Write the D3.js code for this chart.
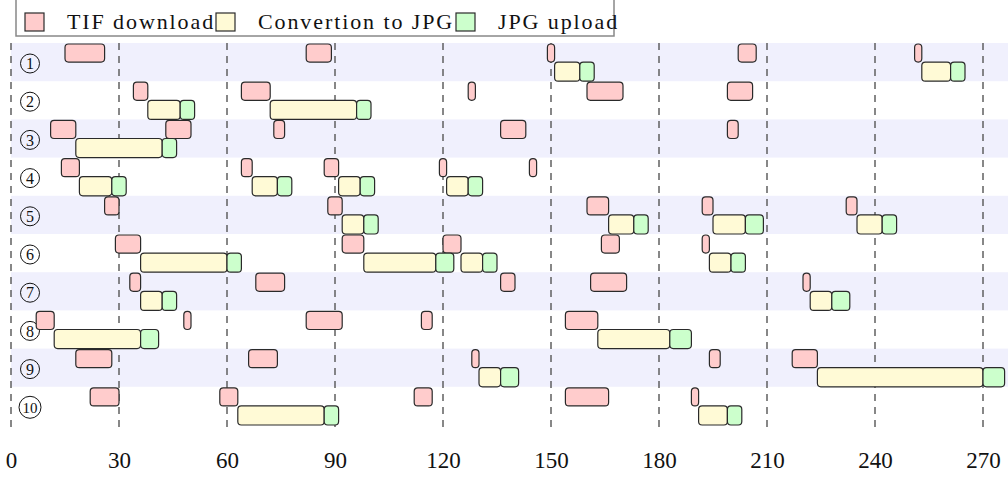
<!DOCTYPE html>
<html>
<head>
<meta charset="utf-8">
<script src="https://cdn.jsdelivr.net/npm/d3@7"></script>
<style>
  body { margin: 0; background: #fff; }
  svg { display: block; }
  svg text { font-family: "Liberation Serif", "DejaVu Serif", serif; }
</style>
</head>
<body>
<div id="chart"></div>
<script>
// machines (rows), one per download slot
const machines = [1, 2, 3, 4, 5, 6, 7, 8, 9, 10];

// [machine, start, end] in seconds
const tifDownload = [
  [1, 15, 26], [1, 82, 89], [1, 149, 151], [1, 202, 207], [1, 251, 253],
  [2, 34, 38], [2, 64, 72], [2, 127, 129], [2, 160, 170], [2, 199, 206],
  [3, 11, 18], [3, 43, 50], [3, 73, 76], [3, 136, 143], [3, 199, 202],
  [4, 14, 19], [4, 64, 67], [4, 87, 91], [4, 119, 121], [4, 144, 146],
  [5, 26, 30], [5, 88, 92], [5, 160, 166], [5, 192, 195], [5, 232, 235],
  [6, 29, 36], [6, 92, 98], [6, 120, 125], [6, 164, 169], [6, 192, 194],
  [7, 33, 36], [7, 68, 76], [7, 136, 140], [7, 161, 171], [7, 220, 222],
  [8, 7, 12], [8, 48, 50], [8, 82, 92], [8, 114, 117], [8, 154, 163],
  [9, 18, 28], [9, 66, 74], [9, 128, 130], [9, 194, 197], [9, 217, 224],
  [10, 22, 30], [10, 58, 63], [10, 112, 117], [10, 154, 166], [10, 189, 191]
];
const conversion = [
  [1, 151, 158], [1, 253, 261],
  [2, 38, 47], [2, 72, 96],
  [3, 18, 42],
  [4, 19, 28], [4, 67, 74], [4, 91, 97], [4, 121, 127],
  [5, 92, 98], [5, 166, 173], [5, 195, 204], [5, 235, 242],
  [6, 36, 60], [6, 98, 118], [6, 125, 131], [6, 194, 200],
  [7, 36, 42], [7, 222, 228],
  [8, 12, 36], [8, 163, 183],
  [9, 130, 136], [9, 224, 270],
  [10, 63, 87], [10, 191, 199]
];
const jpgUpload = [
  [1, 158, 162], [1, 261, 265],
  [2, 47, 51], [2, 96, 100],
  [3, 42, 46],
  [4, 28, 32], [4, 74, 78], [4, 97, 101], [4, 127, 131],
  [5, 98, 102], [5, 173, 177], [5, 204, 209], [5, 242, 246],
  [6, 60, 64], [6, 118, 123], [6, 131, 135], [6, 200, 204],
  [7, 42, 46], [7, 228, 233],
  [8, 36, 41], [8, 183, 189],
  [9, 136, 141], [9, 270, 276],
  [10, 87, 91], [10, 199, 203]
];
const xTicks = [0, 30, 60, 90, 120, 150, 180, 210, 240, 270];
const legendLabels = ["TIF download", "Convertion to JPG", "JPG upload"];

const width = 1008, height = 478;
const serif = "Liberation Serif";

const x = d3.scaleLinear().domain([0, 270]).range([11, 983]);
const y = d3.scaleBand().domain(machines).range([43, 425]).padding(0);
const half = y.bandwidth() / 2;

const svg = d3.select("#chart").append("svg")
    .attr("width", width)
    .attr("height", height)
    .attr("viewBox", [0, 0, width, height]);

// alternating row bands
svg.append("g")
  .selectAll("rect")
  .data(machines.filter(m => m % 2 === 1))
  .join("rect")
    .attr("x", x(0))
    .attr("y", d => y(d))
    .attr("width", width - x(0))
    .attr("height", y.bandwidth())
    .attr("fill", "#f0f0fd");

// dashed grid lines
svg.append("g")
  .selectAll("line")
  .data(xTicks)
  .join("line")
    .attr("x1", d => x(d))
    .attr("x2", d => x(d))
    .attr("y1", 43)
    .attr("y2", 433)
    .attr("stroke", "#555")
    .attr("stroke-width", 1.4)
    .attr("stroke-dasharray", "7,6");

// row labels (circled numbers)
const labels = svg.append("g")
  .selectAll("g")
  .data(machines)
  .join("g")
    .attr("transform", d => `translate(30,${y(d) + 20.5})`);
labels.append("circle")
    .attr("r", d => d === 10 ? 11 : 9.5)
    .attr("fill", "none")
    .attr("stroke", "#111")
    .attr("stroke-width", 1);
labels.append("text")
    .attr("text-anchor", "middle")
    .attr("dy", "0.35em")
    .attr("font-family", serif)
    .attr("font-size", d => d === 10 ? 15 : 16)
    .attr("fill", "#111")
    .text(d => d);

// task bars
function drawBars(data, fill, top) {
  svg.append("g")
    .selectAll("rect")
    .data(data)
    .join("rect")
      .attr("x", d => x(d[1]))
      .attr("y", d => y(d[0]) + (top ? 1 : half))
      .attr("width", d => x(d[2]) - x(d[1]))
      .attr("height", top ? half - 1 : half)
      .attr("rx", 3.5)
      .attr("fill", fill)
      .attr("stroke", "#2a2a2a")
      .attr("stroke-width", 1.2);
}
drawBars(tifDownload, "#ffcccc", true);
drawBars(conversion, "#fffad6", false);
drawBars(jpgUpload, "#ccffcc", false);

// x axis labels only
svg.append("g")
    .attr("transform", `translate(0,452)`)
    .call(d3.axisBottom(x).tickValues(xTicks).tickSize(0).tickPadding(0))
    .call(g => g.select(".domain").remove())
    .call(g => g.attr("font-family", serif).attr("font-size", 23))
    .call(g => g.selectAll("text").attr("fill", "#111"));

// legend
const legend = svg.append("g");
legend.append("rect")
    .attr("x", 16).attr("y", -1)
    .attr("width", 598).attr("height", 37)
    .attr("fill", "#fff")
    .attr("stroke", "#888")
    .attr("stroke-width", 1.5);
const legendColors = ["#ffcccc", "#fffad6", "#ccffcc"];
const legendBoxX = [25, 216, 456];
const legendTextX = [67, 258, 498];
legendLabels.forEach((label, i) => {
  legend.append("rect")
      .attr("x", legendBoxX[i]).attr("y", 13)
      .attr("width", 19).attr("height", 18)
      .attr("fill", legendColors[i])
      .attr("stroke", "#2a2a2a")
      .attr("stroke-width", 1.2);
  legend.append("text")
      .attr("x", legendTextX[i]).attr("y", 28.5)
      .attr("font-family", serif)
      .attr("font-size", 22)
      .attr("letter-spacing", 1.9)
      .attr("fill", "#111")
      .text(label);
});
</script>
</body>
</html>
